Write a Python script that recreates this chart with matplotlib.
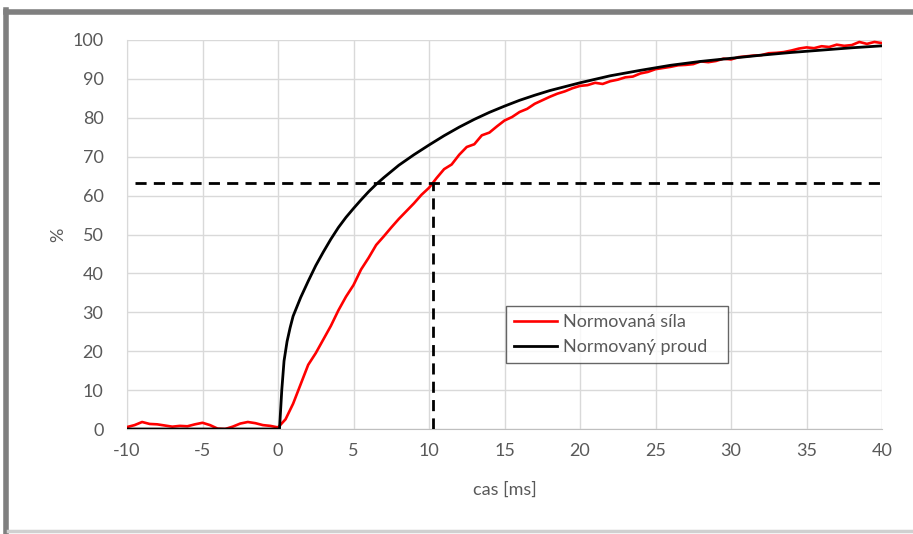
import numpy as np
import matplotlib
matplotlib.use("Agg")
import matplotlib.pyplot as plt
from matplotlib.lines import Line2D

# ---- data ----
t_red = [-10 + 0.5 * i for i in range(101)]
force = [0.5, 1.0, 1.8, 1.3, 1.2, 0.9, 0.6, 0.8, 0.7, 1.2, 1.6, 1.0, 0.1, 0.0, 0.6, 1.4, 1.8, 1.5, 1.0, 0.8, 0.4,
         2.5, 6.5, 11.5, 16.5, 19.5, 23.0, 26.5, 30.5, 34.0, 37.0, 41.0, 44.0, 47.3, 49.5, 51.8, 54.0, 56.0, 58.0, 60.2, 62.0,
         64.5, 66.8, 68.0, 70.5, 72.5, 73.2, 75.5, 76.2, 77.8, 79.3, 80.2, 81.5, 82.3, 83.6, 84.5, 85.4, 86.2, 86.8, 87.6, 88.2,
         88.4, 89.0, 88.7, 89.4, 89.8, 90.4, 90.6, 91.4, 91.8, 92.5, 92.8, 93.1, 93.5, 93.6, 93.8, 94.5, 94.3, 94.6, 95.2, 95.0,
         95.6, 95.8, 96.0, 96.1, 96.6, 96.7, 96.9, 97.3, 97.8, 98.1, 97.9, 98.4, 98.2, 98.8, 98.5, 98.7, 99.5, 99.0, 99.5, 99.2]

t_black = [-10, 0.1, 0.25, 0.4, 0.6, 0.8, 1.0, 1.5, 2.0, 2.5, 3.0, 3.5, 4.0, 4.5, 5.0, 5.5, 6.0, 6.5, 7.0, 8.0, 9.0, 10.0,
           11.0, 12.0, 13.0, 14.0, 15.0, 16.0, 17.0, 18.0, 19.0, 20.0, 22.0, 24.0, 26.0, 28.0, 30.0, 32.0, 34.0, 36.0, 38.0, 40.0]
current = [0, 0, 10.0, 17.5, 22.5, 26.0, 29.0, 33.8, 38.0, 42.0, 45.5, 48.8, 51.8, 54.4, 56.7, 58.9, 61.0, 62.9, 64.6, 67.8, 70.5, 73.0,
           75.4, 77.6, 79.6, 81.4, 83.0, 84.5, 85.8, 87.0, 88.0, 89.0, 90.8, 92.2, 93.5, 94.5, 95.3, 96.1, 96.8, 97.4, 98.0, 98.5]

level_632 = 63.2
tau_ms = 10.25
x_ticks = [-10, -5, 0, 5, 10, 15, 20, 25, 30, 35, 40]
y_ticks = [0, 10, 20, 30, 40, 50, 60, 70, 80, 90, 100]
legend_labels = ["Normovaná síla", "Normovaný proud"]

plt.rcParams['font.family'] = ['Lato', 'DejaVu Sans']
txt = '#595959'

fig = plt.figure(figsize=(9.13, 5.34), dpi=100)
ax = fig.add_axes([127/913, 1 - 429/534, 755/913, 389/534])

ax.plot(t_red, force, color='#ff0000', lw=1.9, label=legend_labels[0], zorder=3)
ax.plot(t_black, current, color='black', lw=2.0, label=legend_labels[1], zorder=4)

ax.plot([-9.5, 40], [level_632, level_632], color='black', lw=2.0, linestyle=(0, (4, 2.6)), zorder=5)
ax.plot([tau_ms, tau_ms], [0, level_632], color='black', lw=2.0, linestyle=(0, (4, 2.6)), zorder=5)

ax.set_xlim(-10, 40)
ax.set_ylim(0, 100)
ax.set_xticks(x_ticks)
ax.set_yticks(y_ticks)
ax.set_xticklabels([str(v) for v in x_ticks])
ax.set_yticklabels([str(v) for v in y_ticks])
ax.grid(True, color='#d9d9d9', lw=1.0)
ax.set_axisbelow(True)
for s in ['top', 'right']:
    ax.spines[s].set_visible(False)
ax.spines['left'].set_color('#d9d9d9')
ax.spines['bottom'].set_color('#bfbfbf')
ax.tick_params(length=0, labelsize=13, labelcolor=txt, pad=10)
ax.tick_params(axis='y', pad=17)
ax.set_xlabel('cas [ms]', fontsize=13, color=txt, labelpad=16)
ax.set_ylabel('%', fontsize=13, color=txt, labelpad=4)

leg = ax.legend(loc='lower left', bbox_to_anchor=(0.49, 0.1465, 0.318, 0.165), mode='expand',
                fontsize=13, frameon=True, fancybox=False, handlelength=2.4, borderpad=0.45,
                labelspacing=0.5, handletextpad=0.3)
leg.get_frame().set_edgecolor('#404040')
leg.get_frame().set_linewidth(1.0)
for t in leg.get_texts():
    t.set_color(txt)

# outer frame
W, H = 913, 534
fig.add_artist(Line2D([6/W, 1.0], [1 - 12/H, 1 - 12/H], color='#7f7f7f', lw=4, transform=fig.transFigure))
fig.add_artist(Line2D([6/W, 6/W], [1 - 10/H, 1 - 532/H], color='#7f7f7f', lw=4, transform=fig.transFigure))
fig.add_artist(Line2D([8/W, 1.0], [1 - 531/H, 1 - 531/H], color='#d0d0d0', lw=2.5, transform=fig.transFigure))

fig.savefig('out.png', dpi=100)
